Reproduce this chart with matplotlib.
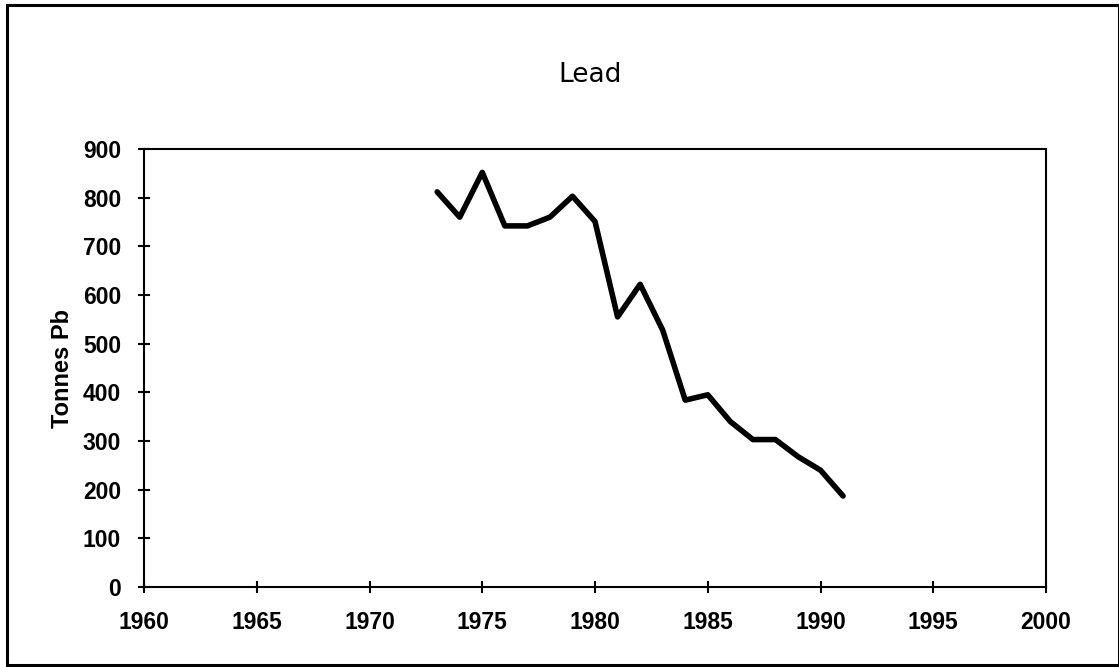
import matplotlib.pyplot as plt
from matplotlib.patches import Rectangle

years = [1973, 1974, 1975, 1976, 1977, 1978, 1979, 1980, 1981, 1982,
         1983, 1984, 1985, 1986, 1987, 1988, 1989, 1990, 1991]
lead = [812, 760, 852, 742, 742, 760, 803, 751, 555, 622,
        528, 384, 395, 340, 303, 303, 268, 240, 187]

x_ticks = [1960, 1965, 1970, 1975, 1980, 1985, 1990, 1995, 2000]
y_ticks = [0, 100, 200, 300, 400, 500, 600, 700, 800, 900]

plt.rcParams['font.family'] = ['Liberation Sans', 'DejaVu Sans']

fig = plt.figure(figsize=(11.19, 6.67), dpi=100)
ax = fig.add_axes([0.1287, 0.1199, 0.8061, 0.6567])

ax.plot(years, lead, color='black', lw=4, solid_joinstyle='round', solid_capstyle='round')

ax.set_xlim(1960, 2000)
ax.set_ylim(0, 900)
ax.set_xticks(x_ticks)
ax.set_yticks(y_ticks)
ax.tick_params(direction='inout', length=9, width=1.5, labelsize=16.5)
for lab in ax.get_xticklabels() + ax.get_yticklabels():
    lab.set_fontweight('bold')
ax.tick_params(axis='x', pad=13)
ax.tick_params(axis='y', pad=12)
for s in ax.spines.values():
    s.set_linewidth(1.5)

ax.set_ylabel('Tonnes Pb', fontsize=17, fontweight='bold', labelpad=6)
fig.text(0.527, 0.887, 'Lead', ha='center', va='center', fontsize=19,
         family='DejaVu Sans')

fig.patches.append(Rectangle((0.006, 0.003), 0.994, 0.99, transform=fig.transFigure,
                             fill=False, ec='black', lw=2.2))

fig.savefig('out.png', dpi=100)
